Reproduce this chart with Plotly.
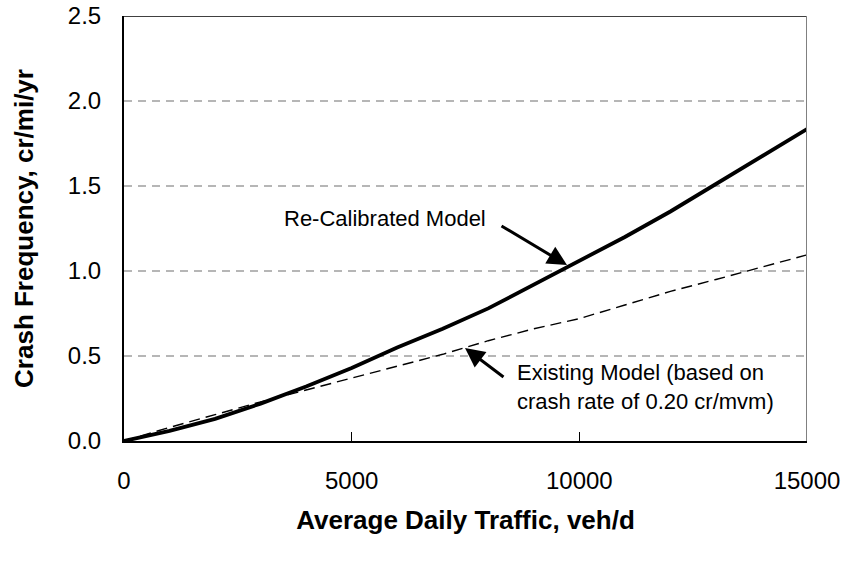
import plotly.graph_objects as go

# average daily traffic, veh/d
adt = [0, 1000, 2000, 3000, 4000, 5000, 6000, 7000, 8000, 9000,
       10000, 11000, 12000, 13000, 14000, 15000]

# re-calibrated model, cr/mi/yr
recalibrated = [0, 0.06, 0.13, 0.22, 0.32, 0.43, 0.55, 0.66, 0.78, 0.92,
                1.06, 1.20, 1.35, 1.51, 1.67, 1.835]

# existing model (0.20 cr/mvm)
existing_adt = [0, 1000, 2000, 3000, 4000, 5000, 6000, 7000, 7500, 8000, 9000,
                10000, 11000, 12000, 13000, 13700, 14000, 15000]
existing = [0, 0.08, 0.155, 0.23, 0.30, 0.37, 0.44, 0.51, 0.55, 0.59, 0.66,
            0.72, 0.80, 0.88, 0.95, 1.00, 1.02, 1.095]

x_ticks = [0, 5000, 10000, 15000]
y_ticks = [0.0, 0.5, 1.0, 1.5, 2.0, 2.5]

font = "Liberation Sans, Arial, sans-serif"

fig = go.Figure()

fig.add_trace(go.Scatter(x=existing_adt, y=existing, mode="lines",
                         line=dict(color="black", width=1.4, dash="11px,6px"),
                         showlegend=False))
fig.add_trace(go.Scatter(x=adt, y=recalibrated, mode="lines",
                         line=dict(color="black", width=3.8),
                         showlegend=False))

# dashed grid lines
for g in [0.5, 1.0, 1.5, 2.0]:
        fig.add_shape(type="line", xref="x", yref="y", x0=0, x1=15000, y0=g, y1=g,
                      line=dict(color="#6e6e6e", width=1.2, dash="8px,6px"), layer="below")
# top border and right border
fig.add_shape(type="line", xref="x", yref="y", x0=0, x1=15000, y0=2.5, y1=2.5,
              line=dict(color="black", width=1.5))
fig.add_shape(type="line", xref="x", yref="y", x0=15000, x1=15000, y0=0, y1=2.5,
              line=dict(color="#808080", width=2))

# labels and arrows
fig.add_annotation(x=5732, y=1.31, text="Re-Calibrated Model", showarrow=False,
                   font=dict(family=font, size=22, color="black"))
fig.add_annotation(x=9729, y=1.035, ax=8258, ay=1.27, axref="x", ayref="y",
                   text="", showarrow=True, arrowhead=2, arrowsize=1.3,
                   arrowwidth=3, arrowcolor="black")
fig.add_annotation(x=8580, y=0.32, xanchor="left", align="left",
                   text="Existing Model (based on<br>crash rate of 0.20 cr/mvm)",
                   showarrow=False, font=dict(family=font, size=22, color="black"))
fig.add_annotation(x=7489, y=0.547, ax=8367, ay=0.37, axref="x", ayref="y",
                   text="", showarrow=True, arrowhead=2, arrowsize=1.3,
                   arrowwidth=3, arrowcolor="black")

fig.update_xaxes(range=[0, 15000], tickvals=x_ticks, ticktext=[str(v) for v in x_ticks],
                 ticks="inside", ticklen=9, tickcolor="black", tickwidth=1,
                 ticklabelstandoff=17, showgrid=False, zeroline=False, automargin=False,
                 ticklabeloverflow="allow",
                 showline=True, linecolor="black", linewidth=2,
                 tickfont=dict(family=font, size=24, color="black"),
                 title=dict(text="<b>Average Daily Traffic, veh/d</b>", standoff=18,
                            font=dict(family=font, size=26, color="black")))
fig.update_yaxes(range=[0, 2.5], tickvals=y_ticks, ticktext=[f"{v:.1f}" for v in y_ticks],
                 ticks="", ticklabelstandoff=16, showgrid=False, zeroline=False,
                 automargin=False, ticklabeloverflow="allow",
                 showline=True, linecolor="black", linewidth=2,
                 tickfont=dict(family=font, size=24, color="black"),
                 title=dict(text="<b>Crash Frequency, cr/mi/yr</b>", standoff=27,
                            font=dict(family=font, size=26, color="black")))

fig.update_layout(width=844, height=567, plot_bgcolor="white", paper_bgcolor="white",
                  margin=dict(l=124, r=37, t=16, b=126))

# drop the default page margin so the figure fills the window, hide the toolbar
fig.write_html("out.html", config={"displayModeBar": False},
               post_script="document.body.style.margin = '0';")
